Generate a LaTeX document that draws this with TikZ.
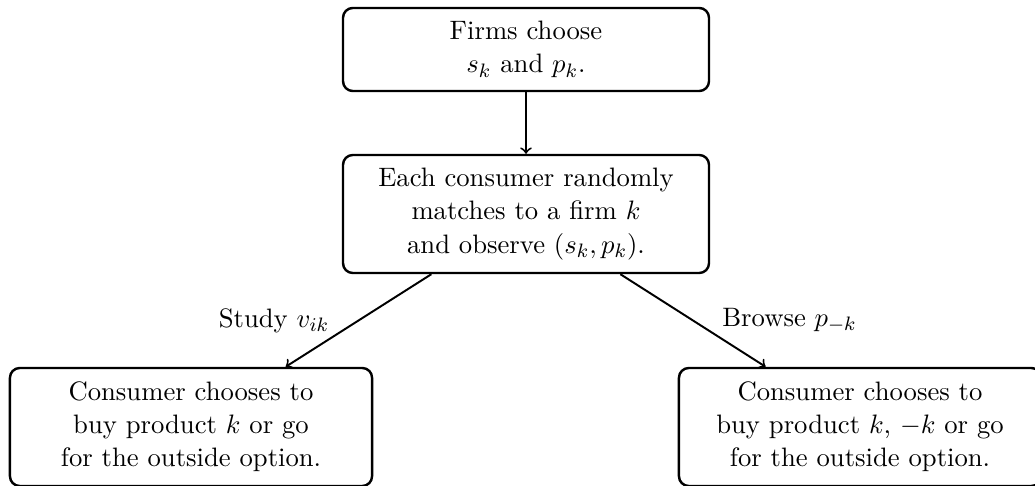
\documentclass[tikz,border=0pt,11pt]{standalone}
\usetikzlibrary{arrows}
\begin{document}
\begin{tikzpicture}[x=0.41068pt, y=-0.41068pt,
  stage/.style={draw, line width=1pt, rounded corners=4pt, align=center, inner sep=0pt},
  wide/.style={minimum width=150.3pt},
  narrowbox/.style={minimum width=148.7pt},
  two/.style={minimum height=34.1pt},
  three/.style={minimum height=48.46pt},
  link/.style={->, thick}]
\useasboundingbox (0,0) rectangle (1035,486);
\node[stage, wide, two] (top) at (526,49.5) {Firms choose\\ $s_k$ and $p_k$.};
\node[stage, wide, three] (mid) at (526,214) {Each consumer randomly\\ matches to a firm $k$\\ and observe $(s_k,p_k)$.};
\node[stage, narrowbox, three] (left) at (191,427) {Consumer chooses to\\ buy product $k$ or go\\ for the outside option.};
\node[stage, narrowbox, three] (right) at (860,427) {Consumer chooses to\\ buy product $k$, $-k$ or go\\ for the outside option.};
\draw[link] (top) -- (mid);
\draw[link] (mid) -- node[midway, left=8pt] (lab1) {Study $v_{ik}$} (left);
\draw[link] (mid) -- node[midway, right=8pt] (lab2) {Browse $p_{-k}$} (right);
\end{tikzpicture}
\end{document}
